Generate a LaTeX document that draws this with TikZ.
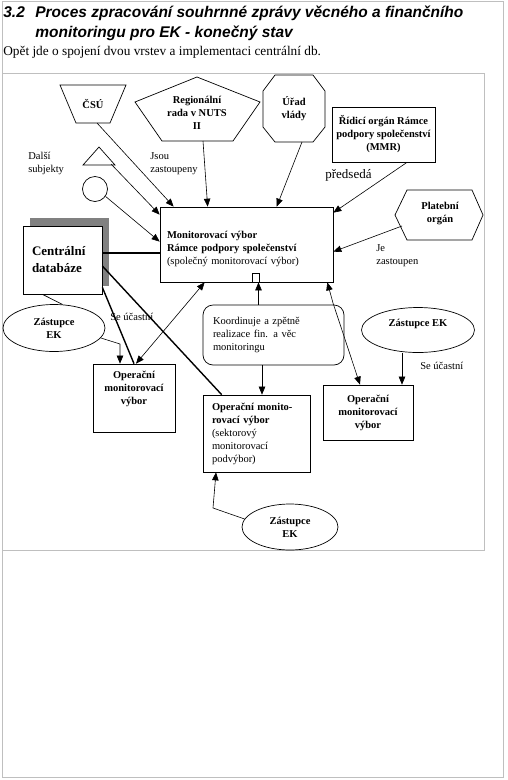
\documentclass[tikz,border=0pt]{standalone}
\usepackage{fontspec}
\setmainfont{Liberation Serif}
\newfontfamily\headfont{Liberation Sans}
\usetikzlibrary{arrows.meta}
\usetikzlibrary{shapes.geometric}
\usetikzlibrary{shadows}

\tikzset{
  frameline/.style={draw=black!25, line width=0.9pt},
  headtxt/.style={anchor=base west, inner sep=0pt, font=\headfont\bfseries\itshape\fontsize{15.5}{20}\selectfont},
  txt/.style={inner sep=0pt, align=center, font=\fontsize{10.5}{13}\selectfont},
  boldtxt/.style={txt, font=\fontsize{10.5}{13}\selectfont\bfseries},
  box/.style={draw, line width=0.7pt, inner sep=0pt},
  arr/.style={line width=0.6pt, -{Triangle[length=8pt,width=6.5pt]}},
  dblarr/.style={line width=0.6pt, {Triangle[length=8pt,width=6.5pt]}-{Triangle[length=8pt,width=6.5pt]}},
  heavy/.style={line width=1.4pt}
}

\begin{document}
\begin{tikzpicture}[x=1pt, y=-1pt, line width=0.7pt]
  \useasboundingbox (0,0) rectangle (508,780);

  % Page and picture frames
  \draw[frameline] (2,1.5) rectangle (503,777);
  \draw[frameline] (2,73) -- (484,73) -- (484,550) -- (2,550);

  % Heading
  \node[headtxt] (secnum) at (3,17) {3.2};
  \node[headtxt] (title) at (35,17) {Proces zpracování souhrnné zprávy věcného a finančního};
  \node[headtxt] (title2) at (35,37) {monitoringu pro EK - konečný stav};
  \node[anchor=base west, inner sep=0pt, font=\fontsize{13.3}{16}\selectfont] (intro) at (3,55)
    {Opět jde o spojení dvou vrstev a implementaci centrální db.};

  % Outside bodies
  \draw (60,85) -- (126,85) -- (110,123) -- (76,123) -- cycle; % CSU
  \node[boldtxt] (csu) at (93,104) {ČSÚ};
  \draw (197,77) -- (260,102) -- (233,141) -- (162,141) -- (135,102) -- cycle; % NUTS
  \node[boldtxt] (nuts) at (197,113) {Regionální\\rada v NUTS\\II};
  \draw (275,75) -- (313,75) -- (325,91) -- (325,127) -- (313,142) -- (275,142) -- (263,127) -- (263,91) -- cycle; % Urad
  \node[boldtxt] (urad) at (294,109) {Úřad\\vlády};
  \node[box, boldtxt, minimum width=103pt, minimum height=55pt] (mmr) at (383.5,134.5)
    {Řídicí orgán Rámce\\podpory společenství\\(MMR)};
  \node[txt, anchor=west, font=\fontsize{13}{16}\selectfont] (predseda) at (325,175) {předsedá};
  \draw (395,215) -- (407,190) -- (472,190) -- (483,215) -- (472,240) -- (407,240) -- cycle; % Platebni
  \node[boldtxt] (plat) at (440,214) {Platební\\orgán};
  \node[txt, align=left, anchor=west] (zastoupen) at (376,256) {Je\\zastoupen};

  % Other subjects
  \node[txt, align=left, anchor=west] (dalsi) at (28,163) {Další\\subjekty};
  \draw (99,147) -- (115,165) -- (83,165) -- cycle;
  \node[box, circle, minimum size=25pt] (circ) at (95,189) {};
  \node[txt, align=left, anchor=west] (jsou) at (150,164) {Jsou\\zastoupeny};

  % Monitoring committee
  \node[box, txt, align=left, text width=159pt, inner xsep=7pt, minimum height=75pt] (main) at (246.5,244.5)
    {\rule{0pt}{17pt}\textbf{Monitorovací výbor}\\\textbf{Rámce podpory společenství}\\(společný monitorovací výbor)};
  \node[box, minimum width=7pt, minimum height=9pt, anchor=south west] (port) at ([xshift=5.5pt]main.south) {};

  % Central database
  \node[box, fill=white, font=\fontsize{13}{17}\selectfont\bfseries, align=left, text width=61pt, inner xsep=9pt,
        minimum height=68pt, general shadow={fill=black!50, shadow xshift=7pt, shadow yshift=8pt}] (cdb) at (62.5,260)
    {Centrální\\databáze};

  % Coordination
  \node[box, txt, align=left, rounded corners=10pt, text width=121pt, inner xsep=10pt, minimum height=60pt] (koord) at (273.5,335)
    {Koordinuje a zpětně\\realizace fin. a věc\\monitoringu};

  % EK representatives
  \node[box, boldtxt, ellipse, minimum width=102pt, minimum height=47pt] (zl) at (54,328) {Zástupce\\EK};
  \node[box, boldtxt, ellipse, minimum width=113pt, minimum height=45pt] (zr) at (418,330) {Zástupce EK\rule[-15pt]{0pt}{0pt}};
  \node[box, boldtxt, ellipse, minimum width=96pt, minimum height=46pt] (zb) at (290,527) {Zástupce\\EK};
  \node[txt, anchor=west] (secl) at (110,317) {Se účastní};
  \node[txt, anchor=west] (secr) at (420,366) {Se účastní};

  % Operational committees
  \node[box, boldtxt, minimum width=82pt, minimum height=68pt] (opl) at (134,398)
    {Operační\\monitorovací\\výbor\rule[-20pt]{0pt}{0pt}};
  \node[box, boldtxt, minimum width=90pt, minimum height=55pt] (opr) at (368,412.5)
    {Operační\\monitorovací\\výbor};
  \node[box, txt, align=left, text width=89pt, inner xsep=9pt, minimum height=77pt] (opc) at (256.5,433.5)
    {\textbf{Operační monito-}\\\textbf{rovací výbor}\\(sektorový\\monitorovací\\podvýbor)};

  % Routings
  \coordinate (csu-s) at (97,123);
  \coordinate (nuts-s) at (203,141);
  \coordinate (urad-s) at (302,142);
  \coordinate (plat-w) at (402,226);
  \coordinate (tri) at (111,164);
  \coordinate (zl-bend) at (120,344);
  \coordinate (mo-bend) at (333,303);
  \coordinate (zb-bend) at (213,508);

  \draw[arr] (csu-s) -- ([xshift=14pt]main.north west); % CSU
  \draw[arr] (nuts-s) -- ([xshift=48pt]main.north west); % NUTS
  \draw[arr] (urad-s) -- ([xshift=117pt]main.north west); % Urad
  \draw[arr] ([xshift=23.5pt]mmr.south) -- ([yshift=-6pt]main.north east); % MMR
  \draw[arr] (plat-w) -- ([yshift=-45pt]main.north east); % Platebni
  \draw[arr] (tri) -- ([yshift=-8pt]main.north west); % Triangle
  \draw[arr] (circ.-35) -- ([yshift=-35pt]main.north west); % Circle

  \draw[heavy] ([yshift=7pt]cdb.east) -- ([yshift=7pt]cdb.east -| main.west);
  \draw[heavy] ([yshift=-6pt]cdb.east) -- ([xshift=19pt]opc.north west);
  \draw[heavy] ([yshift=7pt]cdb.south east) -- (opl.north);
  \draw ([xshift=-20pt]cdb.south) -- (zl.70);

  \draw[arr] (zl.-12) -- (zl-bend) -- (zl-bend |- opl.north);
  \draw[dblarr] ([xshift=2pt]opl.north) -- ([xshift=45pt]main.south west);
  \draw[arr] ([xshift=-15pt]koord.north) -- ([xshift=-15pt]koord.north |- main.south);
  \draw[arr] ([xshift=-11.5pt]koord.south) -- ([xshift=-11.5pt]koord.south |- opc.north);
  \draw[dblarr] ([xshift=-6pt]main.south east) -- (mo-bend) -- ([xshift=-8pt]opr.north);
  \draw[arr] ([xshift=-16pt]zr.south) -- ([xshift=-16pt]zr.south |- opr.north);
  \draw[arr] (zb.170) -- (zb-bend) -- ([xshift=-40.5pt]opc.south);
\end{tikzpicture}
\end{document}
